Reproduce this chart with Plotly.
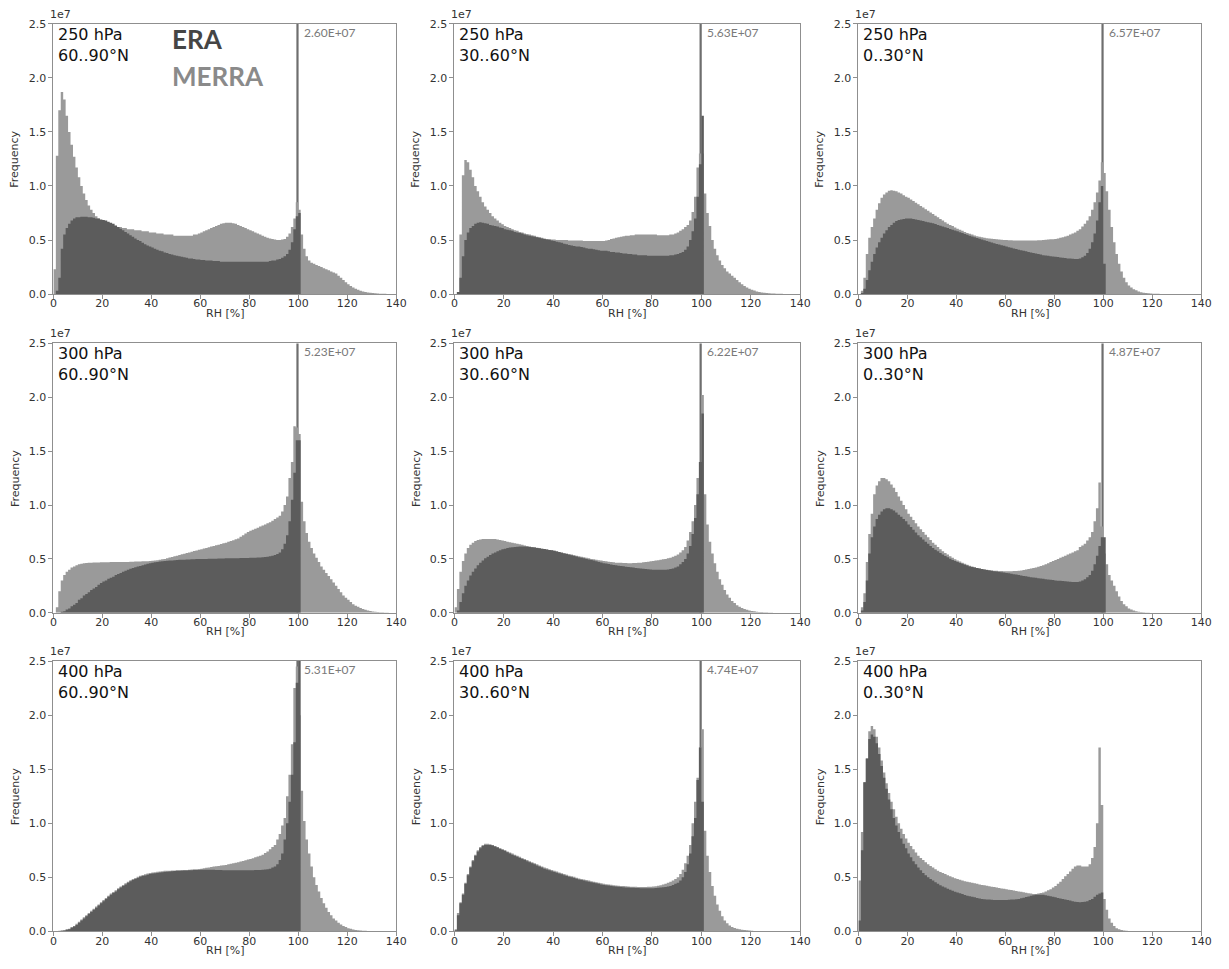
import plotly.graph_objects as go

# ---------------- data (frequency in units of 1e7, bins of 1 % RH starting at 0) ----------------
pressures = ["250 hPa", "300 hPa", "400 hPa"]
lat_bands = ["60..90°N", "30..60°N", "0..30°N"]
x_ticks = [0, 20, 40, 60, 80, 100, 120, 140]
y_ticks = [0.0, 0.5, 1.0, 1.5, 2.0, 2.5]
y_ticktext = ["0.0", "0.5", "1.0", "1.5", "2.0", "2.5"]

# ERA count in the saturation bin (drawn off-scale, labelled)
era_peak = [2.60, 5.63, 6.57, 5.23, 6.22, 4.87, 5.31, 4.74, None]

merra_250_6090 = [
    0.23, 1.28, 1.70, 1.87, 1.80, 1.65, 1.50, 1.38, 1.27, 1.17,
    1.08, 1.00, 0.93, 0.87, 0.82, 0.78, 0.75, 0.72, 0.70, 0.68,
    0.67, 0.66, 0.65, 0.64, 0.63, 0.63, 0.62, 0.62, 0.61, 0.61,
    0.60, 0.60, 0.60, 0.59, 0.59, 0.59, 0.58, 0.58, 0.58, 0.57,
    0.57, 0.57, 0.56, 0.56, 0.56, 0.55, 0.55, 0.55, 0.55, 0.54,
    0.54, 0.54, 0.54, 0.54, 0.54, 0.54, 0.54, 0.55, 0.55, 0.56,
    0.57, 0.58, 0.59, 0.60, 0.61, 0.62, 0.63, 0.64, 0.65, 0.655,
    0.66, 0.66, 0.66, 0.655, 0.65, 0.64, 0.63, 0.62, 0.61, 0.60,
    0.59, 0.58, 0.57, 0.56, 0.55, 0.54, 0.53, 0.52, 0.515, 0.51,
    0.505, 0.50, 0.50, 0.505, 0.51, 0.53, 0.56, 0.62, 0.70, 0.85,
    0.78, 0.55, 0.42, 0.35, 0.31, 0.29, 0.28, 0.27, 0.26, 0.25,
    0.24, 0.23, 0.22, 0.21, 0.20, 0.19, 0.17, 0.15, 0.13, 0.11,
    0.09, 0.075, 0.06, 0.05, 0.04, 0.03, 0.025, 0.02, 0.015, 0.012,
    0.01, 0.008, 0.006, 0.004, 0.003, 0.002, 0.001]
era_250_6090 = [
    0.0, 0.03, 0.15, 0.42, 0.55, 0.61, 0.65, 0.68, 0.70, 0.71,
    0.71, 0.715, 0.715, 0.715, 0.71, 0.71, 0.705, 0.70, 0.70, 0.69,
    0.685, 0.68, 0.67, 0.66, 0.65, 0.635, 0.62, 0.605, 0.59, 0.575,
    0.56, 0.545, 0.53, 0.515, 0.50, 0.49, 0.475, 0.46, 0.45, 0.44,
    0.43, 0.42, 0.41, 0.40, 0.395, 0.385, 0.38, 0.37, 0.365, 0.36,
    0.355, 0.35, 0.345, 0.34, 0.335, 0.33, 0.33, 0.325, 0.32, 0.32,
    0.315, 0.315, 0.31, 0.31, 0.31, 0.305, 0.305, 0.305, 0.30, 0.30,
    0.30, 0.30, 0.30, 0.30, 0.30, 0.30, 0.30, 0.30, 0.30, 0.30,
    0.30, 0.30, 0.30, 0.30, 0.30, 0.30, 0.30, 0.30, 0.305, 0.31,
    0.31, 0.32, 0.325, 0.335, 0.35, 0.37, 0.41, 0.48, 0.60, 0.72,
    0.75]

merra_250_3060 = [
    0.0, 0.02, 0.55, 1.10, 1.24, 1.22, 1.15, 1.08, 1.00, 0.95,
    0.90, 0.85, 0.81, 0.78, 0.75, 0.72, 0.70, 0.68, 0.66, 0.645,
    0.63, 0.62, 0.61, 0.60, 0.59, 0.585, 0.575, 0.57, 0.56, 0.555,
    0.55, 0.545, 0.54, 0.53, 0.525, 0.52, 0.515, 0.51, 0.51, 0.505,
    0.505, 0.50, 0.50, 0.50, 0.50, 0.50, 0.495, 0.495, 0.495, 0.495,
    0.495, 0.495, 0.49, 0.49, 0.49, 0.49, 0.49, 0.49, 0.49, 0.49,
    0.49, 0.495, 0.50, 0.51, 0.515, 0.52, 0.525, 0.53, 0.535, 0.54,
    0.54, 0.545, 0.545, 0.55, 0.55, 0.55, 0.55, 0.55, 0.55, 0.55,
    0.55, 0.55, 0.545, 0.545, 0.545, 0.545, 0.545, 0.55, 0.55, 0.56,
    0.57, 0.585, 0.60, 0.62, 0.64, 0.68, 0.76, 0.90, 1.17, 1.30,
    1.30, 0.93, 0.75, 0.63, 0.50, 0.42, 0.36, 0.31, 0.27, 0.24,
    0.21, 0.19, 0.17, 0.15, 0.13, 0.11, 0.09, 0.075, 0.06, 0.05,
    0.04, 0.032, 0.025, 0.02, 0.015, 0.012, 0.01, 0.008, 0.006, 0.005,
    0.004, 0.003, 0.002, 0.001]
era_250_3060 = [
    0.0, 0.02, 0.15, 0.35, 0.50, 0.57, 0.61, 0.63, 0.65, 0.66,
    0.665, 0.66, 0.655, 0.65, 0.64, 0.635, 0.63, 0.625, 0.615, 0.61,
    0.60, 0.595, 0.59, 0.585, 0.575, 0.57, 0.565, 0.56, 0.55, 0.545,
    0.54, 0.535, 0.53, 0.525, 0.52, 0.515, 0.51, 0.505, 0.50, 0.495,
    0.49, 0.485, 0.48, 0.475, 0.465, 0.46, 0.455, 0.45, 0.445, 0.44,
    0.44, 0.435, 0.43, 0.425, 0.42, 0.42, 0.415, 0.41, 0.405, 0.40,
    0.40, 0.40, 0.395, 0.39, 0.39, 0.385, 0.385, 0.38, 0.375, 0.375,
    0.37, 0.37, 0.365, 0.365, 0.36, 0.36, 0.36, 0.36, 0.355, 0.355,
    0.355, 0.355, 0.355, 0.355, 0.355, 0.355, 0.355, 0.36, 0.36, 0.365,
    0.37, 0.38, 0.39, 0.41, 0.44, 0.50, 0.58, 0.70, 0.90, 1.20,
    1.65]

merra_250_0030 = [
    0.0, 0.03, 0.15, 0.37, 0.52, 0.62, 0.70, 0.78, 0.84, 0.89,
    0.92, 0.94, 0.955, 0.96, 0.955, 0.95, 0.94, 0.93, 0.915, 0.90,
    0.89, 0.875, 0.86, 0.845, 0.83, 0.815, 0.80, 0.785, 0.77, 0.755,
    0.74, 0.725, 0.71, 0.695, 0.68, 0.665, 0.65, 0.64, 0.63, 0.615,
    0.605, 0.595, 0.585, 0.575, 0.565, 0.557, 0.55, 0.542, 0.535, 0.53,
    0.525, 0.52, 0.517, 0.514, 0.512, 0.51, 0.507, 0.505, 0.502, 0.50,
    0.50, 0.498, 0.497, 0.496, 0.495, 0.495, 0.495, 0.495, 0.495, 0.495,
    0.495, 0.495, 0.496, 0.497, 0.498, 0.50, 0.502, 0.504, 0.506, 0.508,
    0.51, 0.515, 0.52, 0.525, 0.532, 0.54, 0.55, 0.56, 0.57, 0.585,
    0.60, 0.625, 0.65, 0.68, 0.72, 0.78, 0.85, 0.94, 1.05, 1.22,
    1.12, 0.95, 0.78, 0.62, 0.48, 0.37, 0.28, 0.21, 0.15, 0.11,
    0.08, 0.06, 0.045, 0.035, 0.025, 0.018, 0.012, 0.009, 0.007, 0.005,
    0.004, 0.003, 0.002, 0.001]
era_250_0030 = [
    0.0, 0.01, 0.05, 0.13, 0.22, 0.30, 0.37, 0.43, 0.48, 0.52,
    0.56, 0.59, 0.62, 0.64, 0.66, 0.675, 0.685, 0.69, 0.695, 0.70,
    0.70, 0.70, 0.695, 0.69, 0.685, 0.68, 0.675, 0.67, 0.665, 0.66,
    0.655, 0.648, 0.64, 0.632, 0.625, 0.618, 0.61, 0.603, 0.595, 0.588,
    0.58, 0.572, 0.564, 0.556, 0.548, 0.54, 0.533, 0.526, 0.519, 0.512,
    0.505, 0.498, 0.491, 0.484, 0.477, 0.47, 0.464, 0.458, 0.452, 0.446,
    0.44, 0.434, 0.428, 0.422, 0.416, 0.41, 0.405, 0.40, 0.395, 0.39,
    0.385, 0.38, 0.375, 0.37, 0.365, 0.36, 0.357, 0.354, 0.351, 0.348,
    0.345, 0.342, 0.339, 0.336, 0.333, 0.33, 0.328, 0.326, 0.325, 0.325,
    0.33, 0.34, 0.355, 0.38, 0.42, 0.48, 0.56, 0.68, 0.85, 1.00,
    0.28]

merra_300_6090 = [
    0.0, 0.05, 0.20, 0.30, 0.35, 0.38, 0.40, 0.42, 0.43, 0.44,
    0.45, 0.455, 0.46, 0.462, 0.464, 0.465, 0.466, 0.467, 0.467, 0.468,
    0.468, 0.469, 0.469, 0.47, 0.47, 0.47, 0.47, 0.47, 0.47, 0.471,
    0.472, 0.473, 0.474, 0.475, 0.475, 0.476, 0.477, 0.478, 0.479, 0.48,
    0.482, 0.485, 0.488, 0.492, 0.496, 0.50, 0.506, 0.512, 0.518, 0.524,
    0.53, 0.536, 0.542, 0.548, 0.554, 0.56, 0.566, 0.572, 0.578, 0.584,
    0.59, 0.596, 0.602, 0.608, 0.614, 0.62, 0.626, 0.632, 0.638, 0.644,
    0.65, 0.658, 0.666, 0.674, 0.682, 0.69, 0.705, 0.72, 0.735, 0.75,
    0.76, 0.77, 0.78, 0.79, 0.80, 0.81, 0.82, 0.83, 0.84, 0.855,
    0.87, 0.885, 0.90, 0.94, 1.00, 1.08, 1.25, 1.40, 1.73, 1.72,
    1.66, 1.03, 0.85, 0.74, 0.66, 0.60, 0.55, 0.51, 0.47, 0.43,
    0.40, 0.37, 0.34, 0.31, 0.28, 0.25, 0.22, 0.19, 0.16, 0.14,
    0.12, 0.10, 0.08, 0.065, 0.055, 0.045, 0.035, 0.027, 0.02, 0.016,
    0.012, 0.009, 0.007, 0.005, 0.004, 0.003, 0.002, 0.001]
era_300_6090 = [
    0.0, 0.0, 0.0, 0.01, 0.015, 0.03, 0.04, 0.06, 0.075, 0.09,
    0.12, 0.135, 0.16, 0.175, 0.19, 0.21, 0.225, 0.24, 0.26, 0.275,
    0.29, 0.30, 0.315, 0.325, 0.335, 0.35, 0.36, 0.37, 0.38, 0.39,
    0.40, 0.408, 0.415, 0.422, 0.43, 0.435, 0.442, 0.448, 0.455, 0.46,
    0.465, 0.469, 0.472, 0.475, 0.477, 0.48, 0.482, 0.484, 0.486, 0.488,
    0.49, 0.491, 0.492, 0.493, 0.494, 0.495, 0.496, 0.497, 0.498, 0.499,
    0.50, 0.50, 0.50, 0.501, 0.501, 0.502, 0.502, 0.503, 0.503, 0.504,
    0.505, 0.505, 0.506, 0.506, 0.507, 0.507, 0.508, 0.508, 0.509, 0.509,
    0.51, 0.51, 0.511, 0.512, 0.513, 0.515, 0.517, 0.52, 0.525, 0.53,
    0.535, 0.545, 0.56, 0.59, 0.64, 0.72, 0.85, 1.05, 1.30, 1.60,
    1.60]

merra_300_3060 = [
    0.05, 0.22, 0.38, 0.48, 0.55, 0.60, 0.63, 0.65, 0.665, 0.675,
    0.68, 0.685, 0.685, 0.685, 0.685, 0.685, 0.685, 0.68, 0.675, 0.67,
    0.665, 0.66, 0.655, 0.65, 0.645, 0.64, 0.635, 0.63, 0.625, 0.62,
    0.615, 0.611, 0.607, 0.603, 0.599, 0.595, 0.591, 0.587, 0.583, 0.579,
    0.575, 0.57, 0.565, 0.56, 0.555, 0.55, 0.545, 0.54, 0.535, 0.53,
    0.525, 0.52, 0.515, 0.51, 0.505, 0.50, 0.496, 0.492, 0.488, 0.484,
    0.48, 0.477, 0.474, 0.471, 0.468, 0.465, 0.464, 0.463, 0.462, 0.461,
    0.46, 0.46, 0.461, 0.462, 0.463, 0.465, 0.468, 0.471, 0.474, 0.477,
    0.48, 0.484, 0.488, 0.492, 0.496, 0.50, 0.505, 0.51, 0.52, 0.53,
    0.54, 0.56, 0.58, 0.61, 0.67, 0.75, 0.85, 1.00, 1.25, 1.40,
    2.02, 1.10, 0.82, 0.66, 0.55, 0.46, 0.38, 0.31, 0.26, 0.21,
    0.17, 0.14, 0.11, 0.09, 0.07, 0.055, 0.045, 0.035, 0.028, 0.022,
    0.017, 0.013, 0.01, 0.008, 0.006, 0.005, 0.004, 0.003, 0.002]
era_300_3060 = [
    0.0, 0.02, 0.10, 0.18, 0.25, 0.30, 0.345, 0.38, 0.41, 0.44,
    0.465, 0.485, 0.505, 0.52, 0.535, 0.55, 0.56, 0.57, 0.58, 0.59,
    0.595, 0.60, 0.605, 0.607, 0.61, 0.612, 0.615, 0.615, 0.615, 0.613,
    0.61, 0.608, 0.605, 0.602, 0.598, 0.595, 0.591, 0.587, 0.583, 0.579,
    0.575, 0.569, 0.563, 0.557, 0.551, 0.545, 0.539, 0.533, 0.527, 0.521,
    0.515, 0.51, 0.505, 0.50, 0.495, 0.49, 0.484, 0.478, 0.472, 0.466,
    0.46, 0.456, 0.452, 0.448, 0.444, 0.44, 0.437, 0.434, 0.431, 0.428,
    0.425, 0.422, 0.419, 0.416, 0.413, 0.41, 0.408, 0.406, 0.404, 0.402,
    0.40, 0.40, 0.40, 0.40, 0.40, 0.40, 0.402, 0.405, 0.41, 0.42,
    0.43, 0.45, 0.47, 0.50, 0.55, 0.62, 0.73, 0.88, 1.10, 1.40,
    1.85]

merra_300_0030 = [
    0.0, 0.05, 0.18, 0.47, 0.73, 0.92, 1.10, 1.18, 1.22, 1.25,
    1.25, 1.24, 1.22, 1.19, 1.16, 1.12, 1.08, 1.04, 1.00, 0.96,
    0.92, 0.89, 0.86, 0.83, 0.80, 0.775, 0.75, 0.725, 0.70, 0.675,
    0.65, 0.63, 0.61, 0.59, 0.57, 0.555, 0.54, 0.525, 0.51, 0.497,
    0.485, 0.475, 0.465, 0.455, 0.445, 0.437, 0.43, 0.422, 0.415, 0.41,
    0.405, 0.402, 0.399, 0.396, 0.393, 0.39, 0.389, 0.388, 0.387, 0.386,
    0.385, 0.385, 0.386, 0.387, 0.388, 0.39, 0.393, 0.397, 0.401, 0.405,
    0.41, 0.415, 0.42, 0.427, 0.433, 0.44, 0.45, 0.46, 0.47, 0.48,
    0.49, 0.50, 0.51, 0.52, 0.53, 0.54, 0.55, 0.56, 0.57, 0.58,
    0.61, 0.625, 0.64, 0.67, 0.70, 0.75, 0.85, 0.97, 1.21, 0.80,
    0.55, 0.45, 0.35, 0.30, 0.25, 0.20, 0.15, 0.11, 0.08, 0.06,
    0.04, 0.03, 0.02, 0.015, 0.01, 0.007, 0.005, 0.003, 0.002, 0.001]
era_300_0030 = [
    0.0, 0.02, 0.10, 0.30, 0.55, 0.70, 0.80, 0.87, 0.91, 0.94,
    0.96, 0.97, 0.97, 0.96, 0.95, 0.93, 0.91, 0.89, 0.87, 0.85,
    0.82, 0.795, 0.77, 0.745, 0.72, 0.70, 0.68, 0.66, 0.64, 0.62,
    0.60, 0.585, 0.57, 0.555, 0.54, 0.527, 0.515, 0.502, 0.49, 0.48,
    0.47, 0.462, 0.454, 0.446, 0.438, 0.43, 0.425, 0.42, 0.415, 0.41,
    0.405, 0.401, 0.397, 0.393, 0.389, 0.385, 0.382, 0.379, 0.376, 0.373,
    0.37, 0.366, 0.362, 0.358, 0.354, 0.35, 0.346, 0.342, 0.338, 0.334,
    0.33, 0.327, 0.324, 0.321, 0.318, 0.315, 0.312, 0.309, 0.306, 0.303,
    0.30, 0.298, 0.296, 0.294, 0.292, 0.29, 0.288, 0.286, 0.285, 0.285,
    0.29, 0.30, 0.31, 0.33, 0.35, 0.39, 0.45, 0.53, 0.62, 0.70,
    0.70]

merra_400_6090 = [
    0.0, 0.003, 0.005, 0.008, 0.01, 0.02, 0.025, 0.04, 0.05, 0.07,
    0.09, 0.11, 0.13, 0.15, 0.17, 0.19, 0.21, 0.23, 0.25, 0.27,
    0.29, 0.31, 0.33, 0.35, 0.365, 0.38, 0.40, 0.415, 0.43, 0.445,
    0.46, 0.473, 0.485, 0.495, 0.505, 0.515, 0.522, 0.528, 0.535, 0.54,
    0.545, 0.548, 0.551, 0.555, 0.557, 0.56, 0.561, 0.562, 0.563, 0.564,
    0.565, 0.566, 0.567, 0.568, 0.569, 0.57, 0.572, 0.574, 0.576, 0.578,
    0.58, 0.584, 0.588, 0.592, 0.596, 0.60, 0.603, 0.606, 0.609, 0.612,
    0.615, 0.62, 0.625, 0.63, 0.635, 0.64, 0.646, 0.652, 0.658, 0.664,
    0.67, 0.677, 0.685, 0.693, 0.70, 0.71, 0.725, 0.74, 0.76, 0.78,
    0.80, 0.85, 0.90, 0.98, 1.05, 1.25, 1.45, 1.73, 2.25, 2.45,
    2.00, 1.30, 1.02, 0.85, 0.72, 0.60, 0.50, 0.43, 0.37, 0.31,
    0.26, 0.22, 0.18, 0.15, 0.12, 0.10, 0.08, 0.065, 0.05, 0.04,
    0.03, 0.024, 0.018, 0.014, 0.01, 0.008, 0.006, 0.005, 0.004, 0.003,
    0.002, 0.0015, 0.001]
era_400_6090 = [
    0.0, 0.0, 0.0, 0.005, 0.008, 0.015, 0.02, 0.035, 0.045, 0.06,
    0.08, 0.10, 0.12, 0.14, 0.16, 0.18, 0.20, 0.22, 0.24, 0.26,
    0.28, 0.30, 0.32, 0.34, 0.355, 0.37, 0.39, 0.405, 0.42, 0.435,
    0.45, 0.463, 0.475, 0.485, 0.495, 0.505, 0.512, 0.518, 0.525, 0.53,
    0.535, 0.538, 0.541, 0.545, 0.547, 0.55, 0.552, 0.554, 0.556, 0.558,
    0.56, 0.561, 0.562, 0.563, 0.564, 0.565, 0.566, 0.567, 0.568, 0.569,
    0.57, 0.57, 0.57, 0.57, 0.57, 0.57, 0.569, 0.568, 0.567, 0.566,
    0.565, 0.565, 0.565, 0.565, 0.565, 0.565, 0.565, 0.565, 0.565, 0.565,
    0.565, 0.566, 0.567, 0.568, 0.569, 0.57, 0.573, 0.576, 0.58, 0.59,
    0.60, 0.62, 0.66, 0.72, 0.85, 1.00, 1.20, 1.45, 1.75, 2.30,
    2.60]

merra_400_3060 = [
    0.02, 0.17, 0.27, 0.35, 0.45, 0.53, 0.60, 0.66, 0.71, 0.75,
    0.78, 0.80, 0.81, 0.81, 0.805, 0.80, 0.79, 0.78, 0.77, 0.76,
    0.75, 0.74, 0.73, 0.72, 0.71, 0.70, 0.69, 0.68, 0.67, 0.66,
    0.65, 0.64, 0.63, 0.62, 0.61, 0.60, 0.59, 0.583, 0.575, 0.568,
    0.56, 0.553, 0.545, 0.538, 0.53, 0.523, 0.515, 0.51, 0.505, 0.497,
    0.49, 0.485, 0.48, 0.475, 0.47, 0.465, 0.46, 0.455, 0.45, 0.445,
    0.44, 0.437, 0.434, 0.431, 0.428, 0.425, 0.423, 0.421, 0.419, 0.417,
    0.415, 0.414, 0.413, 0.412, 0.411, 0.41, 0.41, 0.411, 0.412, 0.413,
    0.415, 0.418, 0.422, 0.428, 0.434, 0.44, 0.45, 0.46, 0.47, 0.485,
    0.50, 0.53, 0.57, 0.63, 0.70, 0.80, 1.00, 1.20, 1.42, 1.70,
    1.87, 0.93, 0.70, 0.55, 0.42, 0.33, 0.25, 0.19, 0.14, 0.10,
    0.075, 0.055, 0.04, 0.032, 0.025, 0.02, 0.015, 0.012, 0.01, 0.008,
    0.006, 0.004, 0.003, 0.002, 0.002]
era_400_3060 = [
    0.01, 0.15, 0.26, 0.34, 0.44, 0.52, 0.59, 0.65, 0.70, 0.74,
    0.77, 0.79, 0.80, 0.80, 0.80, 0.795, 0.785, 0.775, 0.765, 0.755,
    0.745, 0.733, 0.72, 0.71, 0.70, 0.69, 0.68, 0.67, 0.66, 0.65,
    0.64, 0.63, 0.62, 0.61, 0.60, 0.59, 0.58, 0.572, 0.565, 0.557,
    0.55, 0.543, 0.535, 0.528, 0.52, 0.513, 0.505, 0.50, 0.495, 0.487,
    0.48, 0.475, 0.47, 0.465, 0.46, 0.455, 0.45, 0.445, 0.44, 0.435,
    0.43, 0.427, 0.424, 0.421, 0.418, 0.415, 0.413, 0.411, 0.409, 0.407,
    0.405, 0.404, 0.403, 0.402, 0.401, 0.40, 0.40, 0.40, 0.40, 0.40,
    0.40, 0.402, 0.404, 0.406, 0.408, 0.41, 0.415, 0.42, 0.43, 0.44,
    0.45, 0.47, 0.50, 0.55, 0.62, 0.72, 0.88, 1.05, 1.40, 1.70,
    1.20]

merra_400_0030 = [
    0.47, 0.92, 1.38, 1.60, 1.85, 1.90, 1.87, 1.80, 1.70, 1.58,
    1.47, 1.37, 1.28, 1.20, 1.13, 1.06, 1.00, 0.95, 0.90, 0.86,
    0.82, 0.79, 0.76, 0.73, 0.70, 0.68, 0.66, 0.64, 0.62, 0.605,
    0.59, 0.575, 0.56, 0.55, 0.54, 0.53, 0.52, 0.51, 0.50, 0.492,
    0.485, 0.477, 0.47, 0.465, 0.46, 0.455, 0.45, 0.445, 0.44, 0.435,
    0.43, 0.426, 0.422, 0.418, 0.414, 0.41, 0.406, 0.402, 0.398, 0.394,
    0.39, 0.386, 0.382, 0.378, 0.374, 0.37, 0.366, 0.362, 0.358, 0.354,
    0.35, 0.347, 0.345, 0.35, 0.355, 0.36, 0.37, 0.38, 0.39, 0.405,
    0.42, 0.44, 0.46, 0.485, 0.51, 0.53, 0.555, 0.58, 0.60, 0.61,
    0.61, 0.60, 0.60, 0.60, 0.62, 0.68, 0.78, 1.00, 1.70, 1.17,
    0.30, 0.20, 0.12, 0.08, 0.05, 0.03, 0.02, 0.012, 0.008, 0.006,
    0.004, 0.003, 0.002]
era_400_0030 = [
    0.10, 0.75, 1.38, 1.60, 1.78, 1.82, 1.80, 1.74, 1.64, 1.53,
    1.42, 1.32, 1.22, 1.13, 1.05, 0.98, 0.92, 0.86, 0.81, 0.77,
    0.72, 0.685, 0.65, 0.62, 0.59, 0.565, 0.54, 0.52, 0.50, 0.485,
    0.47, 0.455, 0.44, 0.428, 0.415, 0.405, 0.395, 0.385, 0.375, 0.367,
    0.36, 0.352, 0.345, 0.337, 0.33, 0.325, 0.32, 0.315, 0.31, 0.305,
    0.30, 0.298, 0.296, 0.294, 0.292, 0.29, 0.29, 0.29, 0.29, 0.29,
    0.29, 0.292, 0.294, 0.296, 0.298, 0.30, 0.306, 0.312, 0.318, 0.324,
    0.33, 0.335, 0.34, 0.34, 0.34, 0.34, 0.335, 0.33, 0.325, 0.32,
    0.315, 0.31, 0.305, 0.30, 0.295, 0.29, 0.285, 0.28, 0.275, 0.272,
    0.27, 0.272, 0.275, 0.28, 0.29, 0.30, 0.32, 0.34, 0.35, 0.36]

era_series = [era_250_6090, era_250_3060, era_250_0030,
              era_300_6090, era_300_3060, era_300_0030,
              era_400_6090, era_400_3060, era_400_0030]
merra_series = [merra_250_6090, merra_250_3060, merra_250_0030,
                merra_300_6090, merra_300_3060, merra_300_0030,
                merra_400_6090, merra_400_3060, merra_400_0030]

# ---------------- styling / layout ----------------
ERA_COLOR = "#5c5c5c"
MERRA_COLOR = "#9a9a9a"
SPIKE_COLOR = "#6e6e6e"
FRAME = "#8f8f8f"
TXT = "#333333"

col_domains = [[50 / 1229, 397 / 1229], [456 / 1229, 806 / 1229], [865 / 1229, 1212 / 1229]]
row_domains = [[(969 - 292) / 969, (969 - 18) / 969],
               [(969 - 615) / 969, (969 - 342) / 969],
               [(969 - 938) / 969, (969 - 664) / 969]]


def step_hist(values, color, name, xa, ya):
    """Histogram with unit-width bins drawn as a filled step outline."""
    edges = list(range(len(values) + 1))
    heights = list(values) + [values[-1]]
    return go.Scatter(x=edges, y=heights, mode="lines",
                      line=dict(shape="hv", width=0, color=color),
                      fill="tozeroy", fillcolor=color,
                      name=name, xaxis=xa, yaxis=ya, showlegend=False,
                      hoverinfo="skip")


fig = go.Figure()
annotations = []
layout_axes = {}

for k in range(9):
    r, c = divmod(k, 3)
    n = k + 1
    xa = "x" if n == 1 else f"x{n}"
    ya = "y" if n == 1 else f"y{n}"
    xkey = "xaxis" if n == 1 else f"xaxis{n}"
    ykey = "yaxis" if n == 1 else f"yaxis{n}"

    fig.add_trace(step_hist(merra_series[k], MERRA_COLOR, "MERRA", xa, ya))
    fig.add_trace(step_hist(era_series[k], ERA_COLOR, "ERA", xa, ya))
    if era_peak[k] is not None:
        fig.add_trace(go.Bar(x=[99.7], y=[era_peak[k]], width=0.9,
                             marker=dict(color=SPIKE_COLOR, line=dict(width=0)),
                             name="ERA", xaxis=xa, yaxis=ya, showlegend=False))
        annotations.append(dict(
            text=f"{era_peak[k] * 1e7:.2E}", xref=xa, x=101.4,
            yref=f"{ya} domain", y=1, xanchor="left", yanchor="top", yshift=1,
            showarrow=False, font=dict(family="Lato", size=12, color="#7a7a7a")))

    layout_axes[xkey] = dict(
        domain=col_domains[c], anchor=ya, range=[0, 140],
        tickmode="array", tickvals=x_ticks, ticktext=[str(t) for t in x_ticks],
        ticks="outside", ticklen=4, tickcolor=FRAME, tickwidth=1,
        ticklabelstandoff=-5,
        showline=True, linecolor=FRAME, linewidth=1, mirror=True,
        showgrid=False, zeroline=False,
        tickfont=dict(family="DejaVu Sans", size=11, color=TXT))
    layout_axes[ykey] = dict(
        domain=row_domains[r], anchor=xa, range=[0, 2.5],
        tickmode="array", tickvals=y_ticks, ticktext=y_ticktext,
        ticks="outside", ticklen=4, tickcolor=FRAME, tickwidth=1,
        showline=True, linecolor=FRAME, linewidth=1, mirror=True,
        showgrid=False, zeroline=False,
        tickfont=dict(family="DejaVu Sans", size=11, color=TXT))

    # panel labels
    annotations.append(dict(text=pressures[r], xref=f"{xa} domain", x=0, xshift=3,
                            yref=f"{ya} domain", y=1, yanchor="top", yshift=1,
                            xanchor="left", showarrow=False,
                            font=dict(family="DejaVu Sans", size=16, color="#111111")))
    annotations.append(dict(text=lat_bands[c], xref=f"{xa} domain", x=0, xshift=3,
                            yref=f"{ya} domain", y=1, yanchor="top", yshift=-20,
                            xanchor="left", showarrow=False,
                            font=dict(family="DejaVu Sans", size=16, color="#111111")))
    # axis titles
    annotations.append(dict(text="RH [%]", xref=f"{xa} domain", x=0.5,
                            yref=f"{ya} domain", y=0, yanchor="middle", yshift=-19,
                            showarrow=False, font=dict(family="DejaVu Sans", size=11, color=TXT)))
    annotations.append(dict(text="Frequency", xref=f"{xa} domain", x=0, xshift=-47,
                            yref=f"{ya} domain", y=0.5, textangle=-90,
                            showarrow=False, font=dict(family="DejaVu Sans", size=11, color=TXT)))
    annotations.append(dict(text="1e7", xref=f"{xa} domain", x=0, xshift=-5,
                            yref=f"{ya} domain", y=1, yanchor="bottom", yshift=1,
                            xanchor="left", showarrow=False,
                            font=dict(family="DejaVu Sans", size=11, color=TXT)))

# dataset legend text in first panel
annotations.append(dict(text="<b>ERA</b>", xref="x domain", x=0.34, xanchor="left",
                        yref="y domain", y=0.918, yanchor="middle", yshift=7, showarrow=False,
                        font=dict(family="Lato", size=26, color="#454545")))
annotations.append(dict(text="<b>MERRA</b>", xref="x domain", x=0.34, xanchor="left",
                        yref="y domain", y=0.786, yanchor="middle", yshift=6, showarrow=False,
                        font=dict(family="Lato", size=26, color="#8a8a8a")))

fig.update_layout(width=1229, height=969, margin=dict(l=0, r=0, t=0, b=0),
                  paper_bgcolor="white", plot_bgcolor="white", barmode="overlay",
                  showlegend=False, annotations=annotations, **layout_axes)

fig.write_html("out.html")
